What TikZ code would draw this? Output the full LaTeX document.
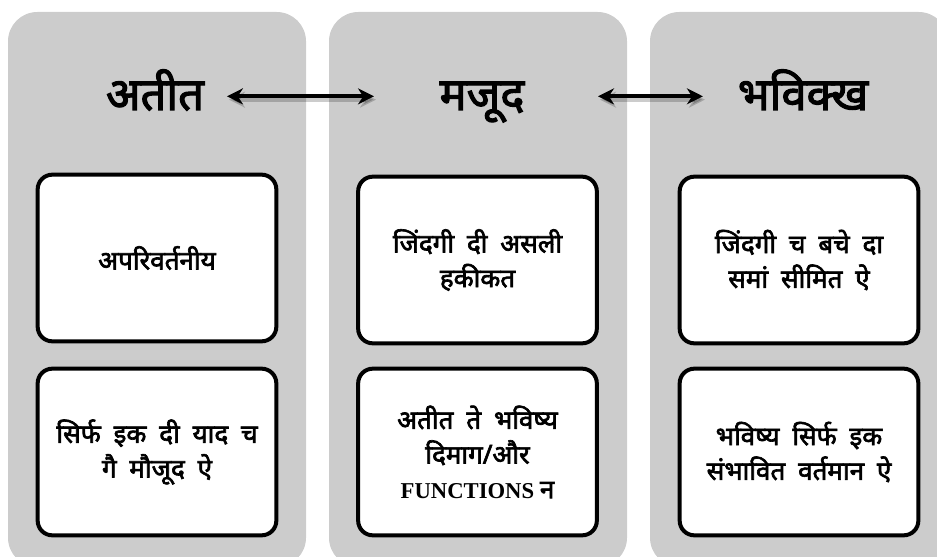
\documentclass[tikz,border=0pt]{standalone}
\usepackage{fontspec}
\setmainfont{Liberation Serif}
\newfontfamily\deva[Script=Devanagari, FakeBold=2.5, WordSpace=1.9]{Noto Sans}
\usetikzlibrary{arrows.meta}
\usetikzlibrary{backgrounds}

\definecolor{colgray}{RGB}{204,204,204}

\tikzset{
  column/.style={fill=colgray, rounded corners=22pt},
  card/.style={draw=black, fill=white, line width=3pt, rounded corners=11pt,
    minimum width=179pt, minimum height=125pt, align=center,
    font=\deva\fontsize{19.5}{26}\selectfont},
  head/.style={font=\deva\fontsize{34}{38}\selectfont, inner sep=0pt,
    text height=25pt, text depth=4.5pt, anchor=base},
  link/.style={{Stealth[length=12pt,width=12pt]}-{Stealth[length=12pt,width=12pt]},
    line width=2.8pt},
  linkshade/.style={link, black, opacity=0.2,
    transform canvas={shift={(1.5pt,-2.5pt)}}}
}

\begin{document}
\begin{tikzpicture}[x=0.75pt, y=-0.75pt]

\useasboundingbox (0,0) rectangle (937,556);

% three grey columns
\foreach \x in {8,329,650}
  \fill[column] (\x,12) rectangle ++(298,555);

% headings
\node[head] (past)    at (155,110) {अतीत};
\node[head] (present) at (482,110) {मजूद};
\node[head] (future)  at (803,110) {भविक्ख};

\draw[linkshade, shorten <=17pt, shorten >=49pt] (past.east) -- (present.west);
\draw[link, shorten <=17pt, shorten >=49pt] (past.east) -- (present.west);
\draw[linkshade, shorten <=55pt, shorten >=26pt] (present.east) -- (future.west);
\draw[link, shorten <=55pt, shorten >=26pt] (present.east) -- (future.west);

% cards
\node[card] (pastA) at (157,258) {अपरिवर्तनीय};
\node[card] (pastB) at (157,452) {सिर्फ इक दी याद च\\गै मौजूद ऐ};

\node[card] (presentA) at (477.5,260) {जिंदगी दी असली\\हकीकत};
\node[card] (presentB) at (477.5,452) {अतीत ते भविष्य\\दिमाग/और\\{\rmfamily\bfseries\fontsize{17}{26}\selectfont FUNCTIONS }न};

\node[card] (futureA) at (799,260) {जिंदगी च बचे दा\\समां सीमित ऐ};
\node[card] (futureB) at (799,452) {भविष्य सिर्फ इक\\संभावित वर्तमान ऐ};

\end{tikzpicture}
\end{document}
